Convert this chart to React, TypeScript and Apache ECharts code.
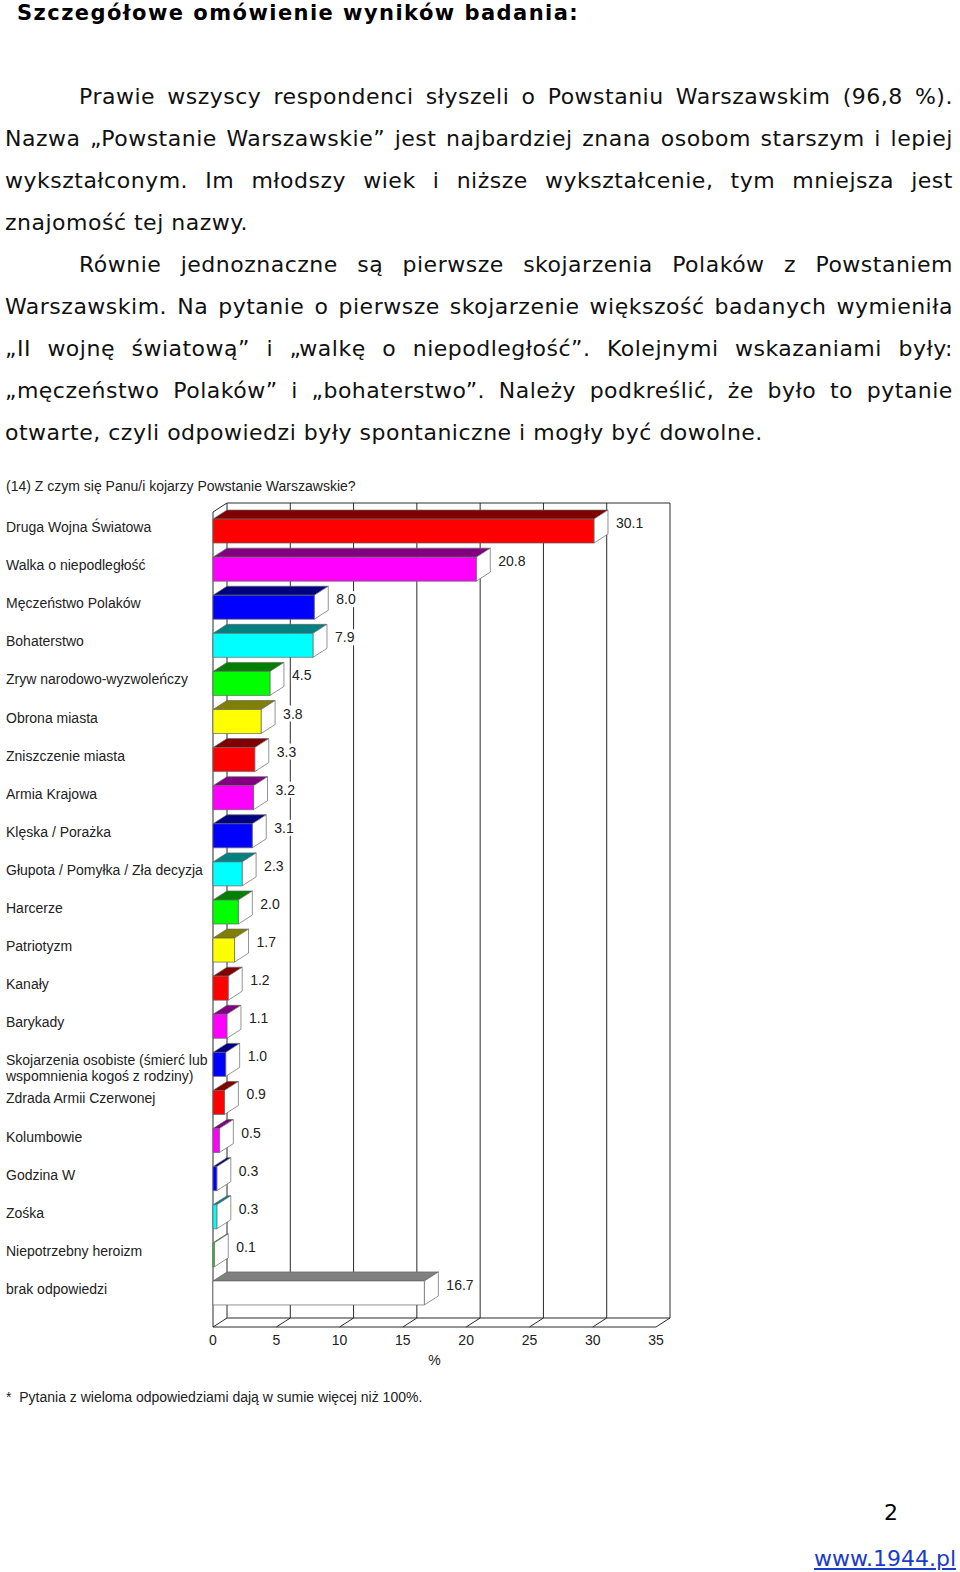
import React, { useEffect, useRef } from "react";
import * as echarts from "echarts";

const CATEGORIES = [
  "Druga Wojna Światowa",
  "Walka o niepodległość",
  "Męczeństwo Polaków",
  "Bohaterstwo",
  "Zryw narodowo-wyzwoleńczy",
  "Obrona miasta",
  "Zniszczenie miasta",
  "Armia Krajowa",
  "Klęska / Porażka",
  "Głupota / Pomyłka / Zła decyzja",
  "Harcerze",
  "Patriotyzm",
  "Kanały",
  "Barykady",
  "Skojarzenia osobiste (śmierć lub\nwspomnienia kogoś z rodziny)",
  "Zdrada Armii Czerwonej",
  "Kolumbowie",
  "Godzina W",
  "Zośka",
  "Niepotrzebny heroizm",
  "brak odpowiedzi",
];
const VALUES = [30.1, 20.8, 8.0, 7.9, 4.5, 3.8, 3.3, 3.2, 3.1, 2.3, 2.0, 1.7, 1.2, 1.1, 1.0, 0.9, 0.5, 0.3, 0.3, 0.1, 16.7];
const BAR_COLORS = [
  "red", "magenta", "blue", "cyan", "green", "yellow",
  "red", "magenta", "blue", "cyan", "green", "yellow",
  "red", "magenta", "blue", "red", "magenta", "blue", "cyan", "green", "white",
];
const TICKS = [0, 5, 10, 15, 20, 25, 30, 35];

const PALETTE: Record<string, [string, string]> = {
  red: ["#FF0000", "#800000"],
  magenta: ["#FF00FF", "#800080"],
  blue: ["#0000FF", "#000080"],
  cyan: ["#00FFFF", "#008080"],
  green: ["#00FF00", "#008000"],
  yellow: ["#FFFF00", "#808000"],
  white: ["#FFFFFF", "#808080"],
};

const TITLE = "(14) Z czym się Panu/i kojarzy Powstanie Warszawskie?";
const FOOTNOTE = "*  Pytania z wieloma odpowiedziami dają w sumie więcej niż 100%.";

const HEADING = "Szczegółowe omówienie wyników badania:";
const LINES: { text: string; indent: boolean; last: boolean }[] = [
  { text: "Prawie wszyscy respondenci słyszeli o Powstaniu Warszawskim (96,8 %).", indent: true, last: false },
  { text: "Nazwa „Powstanie Warszawskie” jest najbardziej znana osobom starszym i lepiej", indent: false, last: false },
  { text: "wykształconym. Im młodszy wiek i niższe wykształcenie, tym mniejsza jest", indent: false, last: false },
  { text: "znajomość tej nazwy.", indent: false, last: true },
  { text: "Równie jednoznaczne są pierwsze skojarzenia Polaków z Powstaniem", indent: true, last: false },
  { text: "Warszawskim. Na pytanie o pierwsze skojarzenie większość badanych wymieniła", indent: false, last: false },
  { text: "„II wojnę światową” i „walkę o niepodległość”. Kolejnymi wskazaniami były:", indent: false, last: false },
  { text: "„męczeństwo Polaków” i „bohaterstwo”. Należy podkreślić, że było to pytanie", indent: false, last: false },
  { text: "otwarte, czyli odpowiedzi były spontaniczne i mogły być dowolne.", indent: false, last: true },
];

const CHART_FONT = '"Liberation Sans", Arial, sans-serif';
const DX = 14;
const DY = 9;

export default function App() {
  const ref = useRef<HTMLDivElement>(null);

  useEffect(() => {
    if (!ref.current) return;
    const chart = echarts.init(ref.current, undefined, { renderer: "svg" });
    const lineStyle = { stroke: "#2a2a2a", lineWidth: 1 };

    const option: any = {
      animation: false,
      backgroundColor: "transparent",
      grid: { left: 213, right: 304, top: 508, bottom: 264, containLabel: false, outerBoundsMode: "none" },
      xAxis: {
        type: "value",
        min: 0,
        max: 35,
        interval: 5,
        name: "%",
        nameLocation: "middle",
        nameGap: 45,
        nameTextStyle: { fontSize: 14, color: "#222", fontFamily: CHART_FONT },
        axisLine: { show: false },
        axisTick: { show: false },
        splitLine: { show: false },
        axisLabel: { margin: 25, fontSize: 14, color: "#222", fontFamily: CHART_FONT },
      },
      yAxis: {
        type: "category",
        inverse: true,
        data: CATEGORIES,
        axisLine: { show: false },
        axisTick: { show: false },
        splitLine: { show: false },
        axisLabel: {
          align: "left",
          margin: 207,
          fontSize: 14,
          color: "#222",
          fontFamily: CHART_FONT,
          lineHeight: 16,
          formatter: (v: string) => (v.indexOf("\n") >= 0 ? "\n" + v : v),
        },
      },
      graphic: [
        {
          type: "text",
          left: 6,
          top: 479,
          style: { text: TITLE, fontSize: 14, fill: "#222", fontFamily: CHART_FONT },
        },
        {
          type: "text",
          left: 6,
          top: 1390,
          style: { text: FOOTNOTE, fontSize: 14, fill: "#222", fontFamily: CHART_FONT },
        },
      ],
      series: [
        {
          type: "custom",
          clip: false,
          z: 1,
          data: [[0, 0]],
          renderItem: (params: any, api: any) => {
            const cs = params.coordSys;
            const fTop = cs.y + 4;
            const fBot = cs.y + cs.height + 19;
            const xs = TICKS.map((t) => api.coord([t, 0])[0]);
            const x0 = xs[0];
            const x35 = xs[xs.length - 1];
            const ch: any[] = [];
            const line = (x1: number, y1: number, x2: number, y2: number) =>
              ch.push({ type: "line", shape: { x1, y1, x2, y2 }, style: lineStyle });
            line(x0 + DX, fTop - DY, x35 + DX, fTop - DY);
            xs.forEach((x) => line(x + DX, fTop - DY, x + DX, fBot - DY));
            line(x0, fBot, x35, fBot);
            line(x0 + DX, fBot - DY, x35 + DX, fBot - DY);
            xs.forEach((x) => line(x, fBot, x + DX, fBot - DY));
            line(x0, fTop, x0, fBot);
            line(x0, fTop, x0 + DX, fTop - DY);
            return { type: "group", children: ch };
          },
        },
        {
          type: "custom",
          clip: false,
          z: 2,
          encode: { x: 0, y: 1 },
          data: VALUES.map((v, i) => [v, i]),
          renderItem: (params: any, api: any) => {
            const v = api.value(0);
            const i = api.value(1);
            const p = api.coord([v, i]);
            const x = p[0];
            const c = p[1];
            const x0 = api.coord([0, i])[0];
            const [front, top] = PALETTE[BAR_COLORS[i]];
            const yT = c - 8;
            const yB = c + 16;
            const edge = { stroke: "#666", lineWidth: 0.7 };
            return {
              type: "group",
              children: [
                {
                  type: "polygon",
                  shape: { points: [[x0, yT], [x, yT], [x + DX, yT - DY], [x0 + DX, yT - DY]] },
                  style: { fill: top, ...edge },
                },
                {
                  type: "polygon",
                  shape: { points: [[x, yT], [x + DX, yT - DY], [x + DX, yB - DY], [x, yB]] },
                  style: { fill: "#FFFFFF", ...edge },
                },
                {
                  type: "rect",
                  shape: { x: x0, y: yT, width: x - x0, height: yB - yT },
                  style: { fill: front, ...edge },
                },
                {
                  type: "text",
                  style: {
                    text: v.toFixed(1),
                    x: x + DX + 7,
                    y: c - 4,
                    verticalAlign: "middle",
                    align: "left",
                    fontSize: 14,
                    fill: "#222",
                    fontFamily: CHART_FONT,
                    backgroundColor: "#FFFFFF",
                    padding: [1, 1, 1, 1],
                  },
                },
              ],
            };
          },
        },
      ],
    };
    chart.setOption(option);
    return () => chart.dispose();
  }, []);

  const textFont = '"DejaVu Sans", Verdana, sans-serif';

  return (
    <div style={{ position: "absolute", left: 0, top: 0, width: 960, height: 1572, background: "#fff", overflow: "hidden" }}>
      <div ref={ref} style={{ position: "absolute", left: 0, top: 0, width: 960, height: 1572 }} />
      <div
        style={{
          position: "absolute",
          left: 17,
          top: 0,
          lineHeight: "26px",
          fontFamily: textFont,
          fontWeight: "bold",
          fontSize: 21,
          letterSpacing: "1.45px",
          color: "#000",
          whiteSpace: "nowrap",
        }}
      >
        {HEADING}
      </div>
      <div style={{ position: "absolute", left: 5, top: 76, width: 948, fontFamily: textFont, fontSize: 22, letterSpacing: "0.5px", color: "#111" }}>
        {LINES.map((l, k) => (
          <div
            key={k}
            style={{
              height: 42,
              lineHeight: "42px",
              paddingLeft: l.indent ? 74 : 0,
              display: "flex",
              justifyContent: l.last ? "flex-start" : "space-between",
              whiteSpace: "pre",
            }}
          >
            {l.last
              ? <span>{l.text}</span>
              : l.text.split(" ").map((w, j) => <span key={j}>{w}</span>)}
          </div>
        ))}
      </div>
      <div style={{ position: "absolute", left: 884, top: 1499, fontFamily: textFont, fontSize: 22, lineHeight: "28px", color: "#000" }}>2</div>
      <div
        style={{
          position: "absolute",
          left: 814,
          top: 1545,
          fontFamily: textFont,
          fontSize: 22,
          lineHeight: "28px",
          color: "#1a3cc8",
          textDecoration: "underline",
        }}
      >
        www.1944.pl
      </div>
    </div>
  );
}
